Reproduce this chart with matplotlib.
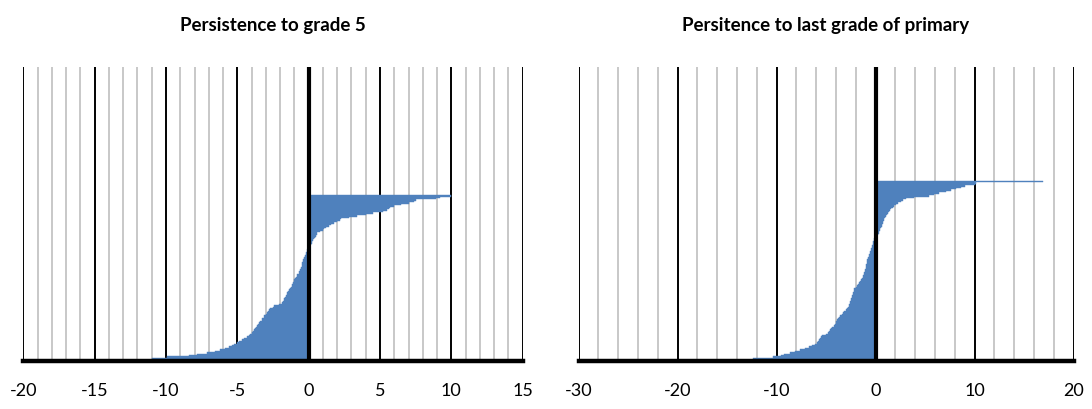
import matplotlib
matplotlib.use("Agg")
import matplotlib.pyplot as plt
from matplotlib.ticker import MultipleLocator

plt.rcParams['font.family'] = ['Lato', 'DejaVu Sans']
plt.rcParams['axes.unicode_minus'] = False

# change per country, sorted ascending (bottom to top)
grade5 = [
    -11.0, -9.9, -8.4, -7.8, -7.1, -6.6, -6.2, -5.9, -5.6, -5.4,
    -5.2, -5.0, -4.9, -4.7, -4.5, -4.35, -4.2, -4.1, -4.0, -3.9,
    -3.8, -3.75, -3.7, -3.6, -3.55, -3.45, -3.4, -3.3, -3.25, -3.15,
    -3.1, -3.0, -2.95, -2.85, -2.8, -2.7, -2.5, -2.4, -2.1, -1.9,
    -1.8, -1.75, -1.7, -1.65, -1.6, -1.55, -1.5, -1.45, -1.4, -1.3,
    -1.25, -1.2, -1.15, -1.1, -1.05, -1.0, -0.96, -0.9, -0.85, -0.8,
    -0.7, -0.65, -0.6, -0.57, -0.54, -0.5, -0.47, -0.44, -0.41, -0.38,
    -0.34, -0.3, -0.26, -0.22, -0.18, -0.14, -0.1, -0.05, 0.02, 0.08,
    0.14, 0.2, 0.25, 0.3, 0.35, 0.42, 0.5, 0.55, 0.6, 0.8,
    1.0, 1.1, 1.25, 1.4, 1.55, 1.75, 2.0, 2.2, 2.3, 2.8,
    3.4, 4.0, 4.5, 5.2, 5.5, 5.6, 5.7, 6.0, 6.5, 7.0,
    7.35, 7.5, 8.9, 9.2, 10.0,
]

last_primary = [
    -12.4, -10.4, -9.6, -9.2, -8.6, -8.1, -7.6, -7.1, -6.7, -6.4,
    -6.1, -5.9, -5.8, -5.7, -5.6, -5.5, -5.4, -5.0, -4.85, -4.7,
    -4.6, -4.45, -4.35, -4.2, -4.1, -4.0, -3.95, -3.85, -3.75, -3.7,
    -3.55, -3.4, -3.3, -3.15, -3.0, -2.9, -2.8, -2.7, -2.65, -2.6,
    -2.55, -2.5, -2.45, -2.4, -2.35, -2.3, -2.25, -2.2, -2.18, -2.15,
    -2.0, -1.9, -1.8, -1.7, -1.6, -1.5, -1.4, -1.3, -1.25, -1.2,
    -1.15, -1.1, -1.05, -1.0, -0.98, -0.95, -0.92, -0.88, -0.85, -0.82,
    -0.8, -0.75, -0.7, -0.65, -0.6, -0.53, -0.46, -0.42, -0.38, -0.34,
    -0.3, -0.26, -0.23, -0.2, -0.15, -0.08, 0.1, 0.2, 0.3, 0.37,
    0.45, 0.5, 0.57, 0.65, 0.7, 0.75, 0.8, 0.85, 0.9, 1.0,
    1.1, 1.2, 1.3, 1.4, 1.5, 1.55, 1.75, 1.9, 2.05, 2.3,
    2.55, 2.8, 3.05, 3.9, 5.4, 5.9, 6.4, 7.1, 7.6, 8.1,
    8.6, 9.0, 10.0, 10.1, 16.9,
]

panels = [
    ("Persistence to grade 5", grade5, (-20, 15), 5, 1),
    ("Persitence to last grade of primary", last_primary, (-30, 20), 10, 2),
]

BLUE = '#4f81bd'
fig = plt.figure(figsize=(10.92, 4.10), dpi=100)

boxes = [[0.0214, 0.1159, 0.4572, 0.7183],
         [0.5298, 0.1159, 0.4533, 0.7183]]

for (title, vals, xlim, major, minor), box in zip(panels, boxes):
    ax = fig.add_axes(box)
    ax.set_axisbelow(True)
    ax.barh(range(len(vals)), vals, height=1.0, color=BLUE,
            edgecolor=BLUE, linewidth=0.3, zorder=2)
    ax.set_xlim(*xlim)
    ax.set_ylim(-2.0, 204.3)
    ax.xaxis.set_major_locator(MultipleLocator(major))
    ax.xaxis.set_minor_locator(MultipleLocator(minor))
    ax.grid(which='minor', axis='x', color='#bfbfbf', linewidth=1.2)
    ax.grid(which='major', axis='x', color='black', linewidth=1.4)
    ax.axvline(0, color='black', linewidth=3.0, zorder=3)
    ax.set_yticks([])
    for s in ['top', 'left', 'right']:
        ax.spines[s].set_visible(False)
    ax.spines['bottom'].set_linewidth(3.2)
    ax.spines['bottom'].set_zorder(4)
    ax.tick_params(axis='x', which='both', length=0, pad=15, labelsize=13)
    cx = box[0] + box[2] / 2
    fig.text(cx, 1 - 25 / 410, title, ha='center', va='center',
             fontsize=13.5, fontweight='bold')

fig.savefig("out.png", dpi=100)
